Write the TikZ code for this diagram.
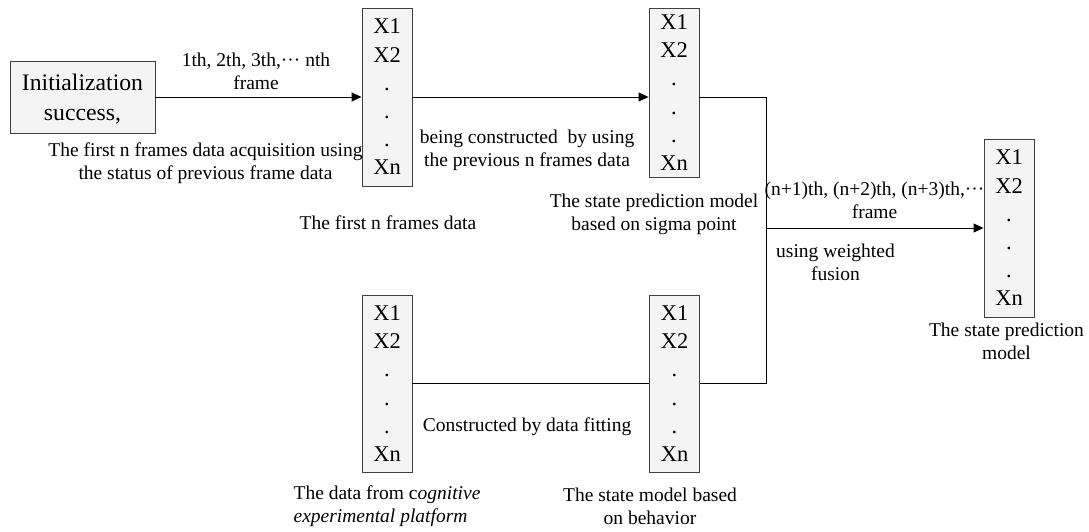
\documentclass[tikz,border=0pt]{standalone}
\usepackage{fontspec}
\setmainfont{Liberation Serif}
\usetikzlibrary{arrows.meta}
\definecolor{boxgray}{HTML}{404040}
\definecolor{boxfill}{HTML}{F4F4F4}
\newcommand{\xcol}{X1\\X2\\.\\.\\.\\Xn}

\begin{document}
\begin{tikzpicture}[x=1pt, y=-1pt, line width=0.9pt,
    databox/.style={draw=boxgray, fill=boxfill, minimum width=50pt, inner sep=0pt,
      align=center, text depth=0pt, font=\fontsize{22.5}{28.2}\selectfont},
    lbl/.style={align=center, inner sep=0pt, font=\fontsize{19.5}{23}\selectfont},
    arr/.style={-{Triangle[length=10pt,width=9pt]}}]
    \useasboundingbox (0,0) rectangle (1089,532);

    % boxes
    \node[databox, minimum width=145pt, minimum height=72pt,
      font=\fontsize{23.7}{30}\selectfont] (init) at (82.5,97) {Initialization\\success,};
    \node[databox, minimum height=178pt] (first) at (387,97) {\xcol};
    \node[databox, minimum height=169pt] (sigma) at (674,92.5) {\xcol};
    \node[databox, minimum height=178pt] (pred) at (1009,228) {\xcol};
    \node[databox, minimum height=177pt] (cogn) at (387,383.5) {\xcol};
    \node[databox, minimum height=177pt] (behav) at (674.5,383.5) {\xcol};

    % connectors
    \coordinate (bend) at (766,97);
    \draw[arr] (init) -- (first);
    \draw[arr] (first.east) -- (first.east -| sigma.west);
    \draw (first.east -| sigma.east) -- (bend) |- (behav.east);
    \draw (cogn) -- (behav);
    \draw[arr] (bend |- pred.west) -- (pred.west);

    % labels
    \node[lbl] (frames) at (256,71.5) {1th, 2th, 3th,··· nth\\frame};
    \node[lbl] (acq) at (205.5,163.5) {The first n frames data acquisition using\\the status of previous frame data};
    \node[lbl] (firstlbl) at (388,223) {The first n frames data};
    \node[lbl] (built) at (527,150.5) {being constructed\ \ by using\\the previous n frames data};
    \node[lbl] (sigmalbl) at (654,214.5) {The state prediction model\\based on sigma point};
    \node[lbl] (nextfr) at (874.5,200) {(n+1)th, (n+2)th, (n+3)th,···\\frame};
    \node[lbl] (fusion) at (835.5,262.5) {using weighted\\fusion};
    \node[lbl] (predlbl) at (1006.5,341) {The state prediction\\model};
    \node[lbl] (fitting) at (527,427) {Constructed by data fitting};
    \node[lbl, align=left] (cognlbl) at (387,506.5) {The data from c\textit{ognitive}\\\textit{experimental platform}};
    \node[lbl] (behavlbl) at (650,506.5) {The state model based\\on behavior};
\end{tikzpicture}
\end{document}
